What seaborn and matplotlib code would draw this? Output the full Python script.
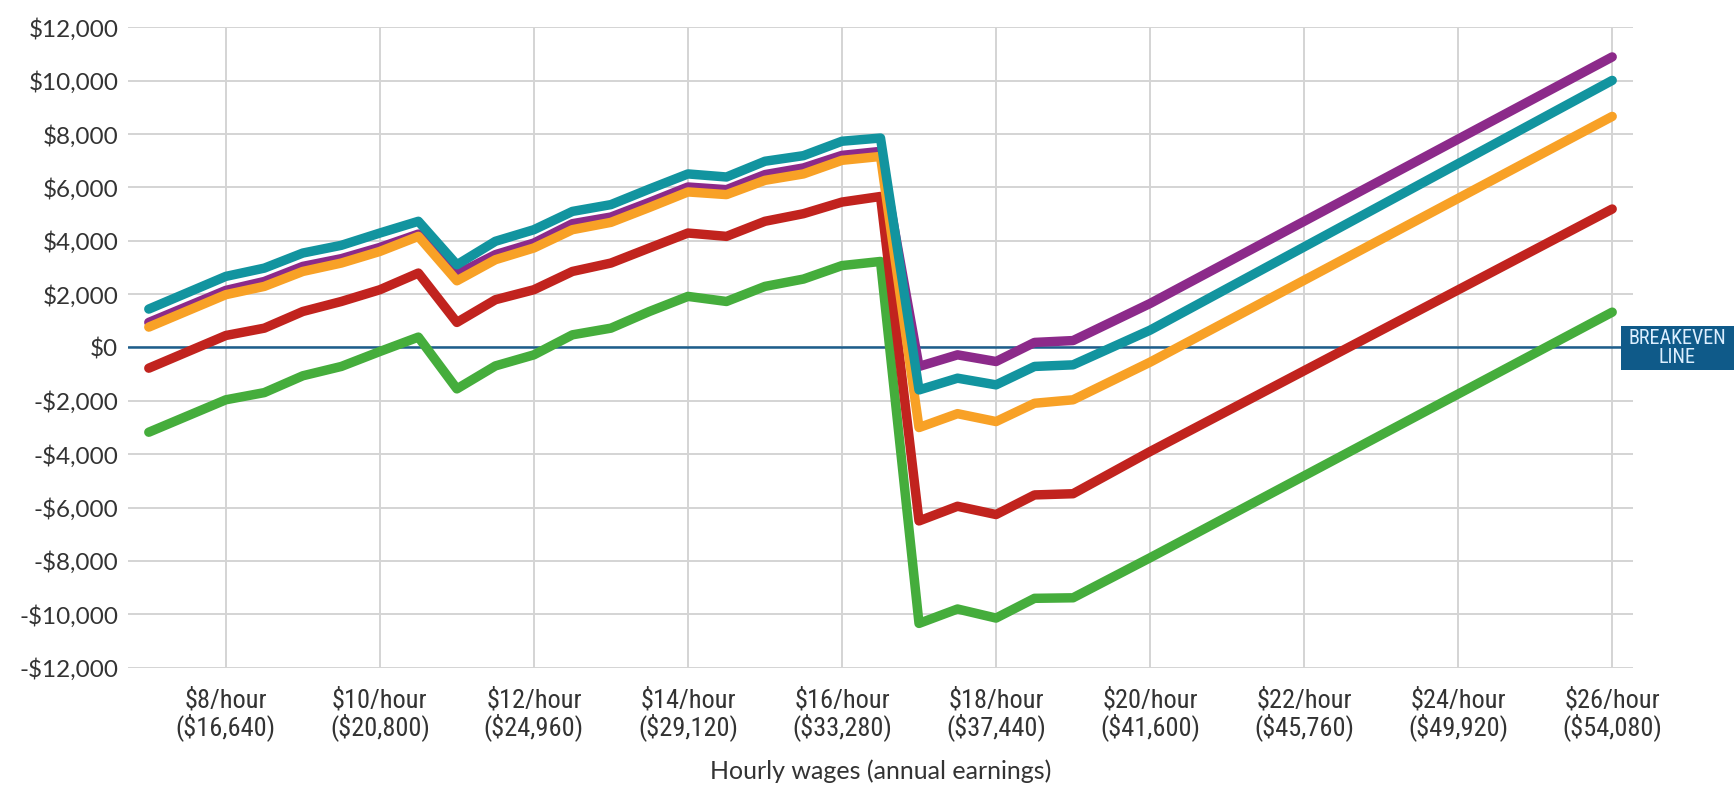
import pandas as pd
import seaborn as sns
import matplotlib.pyplot as plt
from matplotlib import font_manager
from matplotlib.patches import Rectangle
from matplotlib.ticker import FuncFormatter

# hourly wage points
wage = [7, 8, 8.5, 9, 9.5, 10, 10.5, 11, 11.5, 12, 12.5, 13, 13.5, 14, 14.5,
        15, 15.5, 16, 16.5, 17, 17.5, 18, 18.5, 19, 20, 26]

# net gain / loss per series
purple = [940, 2140, 2475, 3040, 3330, 3750, 4250, 2750, 3480, 3915, 4640, 4890, 5440,
          6015, 5915, 6480, 6730, 7200, 7350, -710, -275, -525, 190, 260, 1650, 10890]
teal = [1440, 2665, 2975, 3540, 3830, 4290, 4730, 3100, 3980, 4415, 5100, 5355, 5940,
        6505, 6390, 6980, 7190, 7730, 7850, -1590, -1150, -1400, -710, -650, 650, 10010]
orange = [765, 1980, 2290, 2850, 3165, 3600, 4165, 2500, 3290, 3730, 4415, 4690, 5250,
          5830, 5730, 6265, 6505, 7015, 7160, -3000, -2480, -2775, -2090, -1960, -550, 8660]
red = [-775, 450, 725, 1350, 1725, 2165, 2790, 940, 1790, 2165, 2850, 3165, 3730,
       4290, 4165, 4730, 5015, 5450, 5660, -6500, -5950, -6260, -5525, -5480, -3900, 5190]
green = [-3175, -1960, -1690, -1060, -710, -150, 390, -1550, -690, -275, 475, 725, 1350,
         1915, 1725, 2290, 2565, 3070, 3225, -10340, -9800, -10140, -9400, -9380, -7880, 1325]

tick_wages = [8, 10, 12, 14, 16, 18, 20, 22, 24, 26]
tick_labels = [f"${w}/hour\n(${w * 2080:,})" for w in tick_wages]
y_ticks = list(range(-12000, 12001, 2000))

series = {"green": green, "red": red, "purple": purple, "orange": orange, "teal": teal}
colors = {"green": "#45ad3c", "red": "#c1231e", "purple": "#8c2a8a",
          "orange": "#f8a126", "teal": "#12949f"}

df = pd.concat([pd.DataFrame({"wage": wage, "net": v, "series": k}) for k, v in series.items()])

sns.set_style("white")
avail = {f.name for f in font_manager.fontManager.ttflist}
main_font = "Lato" if "Lato" in avail else "DejaVu Sans"
narrow = next((f for f in ["Liberation Sans Narrow", "Roboto Condensed", "Open Sans Condensed"]
               if f in avail), "Liberation Sans")
plt.rcParams["font.family"] = [main_font, "DejaVu Sans"]

fig = plt.figure(figsize=(17.35, 7.92), dpi=100)
ax = fig.add_axes([128 / 1735, 1 - 667.7 / 792, (1633 - 128) / 1735, (667.7 - 27.3) / 792])

ax.axhline(0, color="#1d5e8c", lw=1.8, zorder=1)
sns.lineplot(data=df, x="wage", y="net", hue="series", palette=colors, sort=False,
             lw=6.8, legend=False, ax=ax, zorder=3, solid_capstyle="round")

ax.set_xlim(6.73, 26.27)
ax.set_ylim(-12000, 12000)
ax.set_xticks(tick_wages)
ax.set_xticklabels(tick_labels, fontsize=19, family=[narrow, "DejaVu Sans"],
                   color="#333333", linespacing=1.05)
ax.set_yticks(y_ticks)
ax.yaxis.set_major_formatter(FuncFormatter(lambda v, p: f"-${abs(v):,.0f}" if v < 0 else f"${v:,.0f}"))
ax.tick_params(axis="y", length=0, pad=7, labelsize=17.5, labelcolor="#333333")
ax.tick_params(axis="x", length=6.5, width=1.2, color="#d2d2d2", pad=8)
ax.grid(True, color="#d4d4d4", lw=1.4, zorder=0)
for s in ax.spines.values():
    s.set_visible(False)
ax.set_xlabel("Hourly wages (annual earnings)", fontsize=18, color="#333333", labelpad=13)
ax.set_ylabel("")

# breakeven tag at right end of zero line
fig.patches.append(Rectangle((1621 / 1735, 1 - 370 / 792), 113 / 1735, 44 / 792,
                             transform=fig.transFigure, facecolor="#0f5a89", edgecolor="none"))
fig.text(1677 / 1735, 1 - 348 / 792, "BREAKEVEN\nLINE", ha="center", va="center",
         color="#dcefff", fontsize=14.5, linespacing=0.95, family=[narrow, "DejaVu Sans"])

fig.savefig("out.png", dpi=100)
